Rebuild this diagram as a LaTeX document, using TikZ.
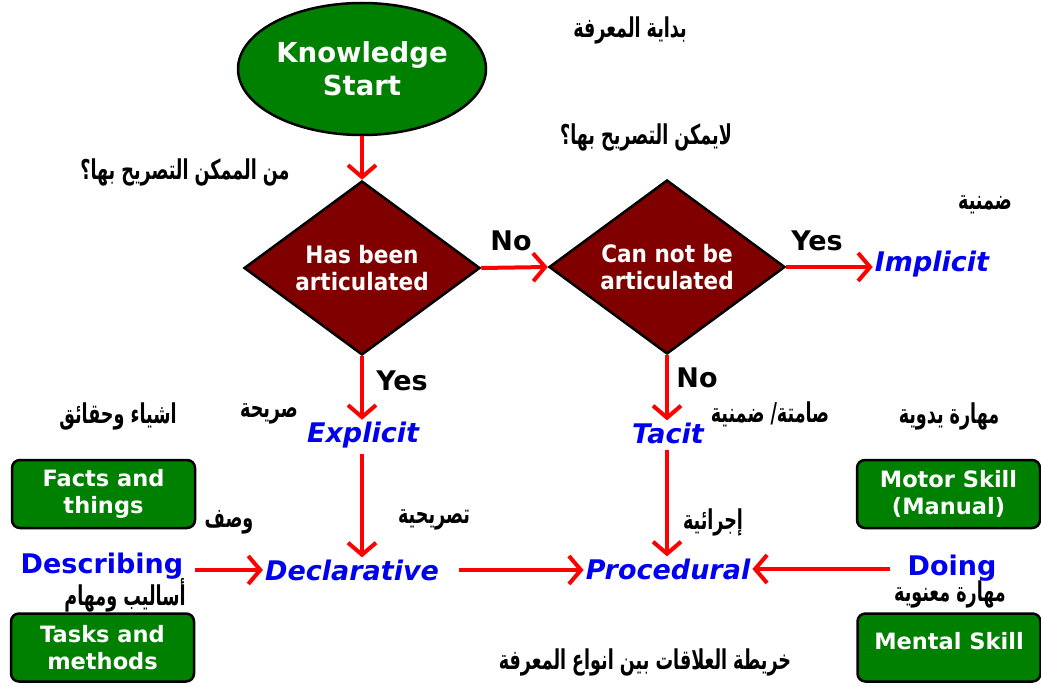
\documentclass[tikz,border=0pt]{standalone}
\usepackage{fontspec}
\usepackage{graphicx}
\setmainfont{DejaVu Sans}
\newfontfamily\condfont{DejaVu Sans Condensed}
\newfontfamily\arabicfont[Script=Arabic]{DejaVu Sans}
\usetikzlibrary{shapes.geometric,arrows.meta}
\TeXXeTstate=1
\definecolor{startgreen}{HTML}{008000}
\definecolor{decisionred}{HTML}{800000}
\definecolor{termblue}{HTML}{0000F0}
\definecolor{flowred}{HTML}{FF0000}
\newcommand{\ar}[1]{\scalebox{0.9}[1.4]{\arabicfont\bfseries\fontsize{19.5}{22}\selectfont\beginR #1\endR}}
\begin{document}
\begin{tikzpicture}[x=1pt,y=-1pt,
  startnode/.style={ellipse,draw=black,line width=2.5pt,fill=startgreen,
    minimum width=248pt,minimum height=132pt,inner sep=0pt,text=white,align=center,
    font=\bfseries\fontsize{27.5}{33}\selectfont},
  decision/.style={diamond,draw=black,line width=2.5pt,fill=decisionred,aspect=1.4,
    minimum width=236pt,minimum height=174pt,inner sep=0pt,text=white,align=center,
    font=\condfont\bfseries\fontsize{24}{27}\selectfont},
  skillbox/.style={rectangle,rounded corners=8pt,draw=black,line width=2.5pt,fill=startgreen,
    minimum width=183pt,minimum height=68pt,inner sep=0pt,text=white,align=center,
    font=\bfseries\fontsize{22.5}{27}\selectfont},
  term/.style={text=termblue,inner sep=2pt,font=\bfseries\itshape\fontsize{27}{30}\selectfont},
  verb/.style={text=termblue,inner sep=2pt,font=\bfseries\fontsize{27}{30}\selectfont},
  answer/.style={inner sep=0pt,font=\bfseries\fontsize{27}{30}\selectfont},
  arlabel/.style={inner sep=0pt},
  flow/.style={draw=flowred,line width=4pt,-{Straight Barb[length=12pt,width=28pt]}},
]
\useasboundingbox (0,0) rectangle (1041,687);
\fill[white] (0,0) rectangle (1041,687);

% main flow shapes
\node[startnode] (ks) at (362,69) {Knowledge\\Start};
\node[decision] (d1) at (362,268) {Has been\\articulated};
\node[decision] (d2) at (667,267) {Can not be\\articulated};

% knowledge kinds
\node[term] (implicit) at (932,264) {Implicit};
\node[term] (explicit) at (363,435) {Explicit};
\node[term] (tacit) at (668,433) {Tacit};
\node[term] (declarative) at (352,570) {Declarative};
\node[term] (procedural) at (668,569) {Procedural};
\node[verb] (describing) at (102,566) {Describing};
\node[verb] (doing) at (952,568) {Doing};

% skill boxes
\node[skillbox] (facts) at (103.5,494) {Facts and\\things};
\node[skillbox] (tasks) at (102.5,647.5) {Tasks and\\methods};
\node[skillbox] (motor) at (948.5,494) {Motor Skill\\(Manual)};
\node[skillbox,text depth=14pt] (mental) at (949,647.5) {Mental Skill};

% answers on the branches
\node[answer] (no1) at (511,241) {No};
\node[answer] (yes1) at (817,241) {Yes};
\node[answer] (yes2) at (402,381) {Yes};
\node[answer] (no2) at (697,378) {No};

% arabic captions
\node[arlabel] (a1) at (630,30) {\ar{بداية المعرفة}};
\node[arlabel] (a2) at (185,172) {\ar{من الممكن التصريح بها؟}};
\node[arlabel] (a3) at (646,137) {\ar{لايمكن التصريح بها؟}};
\node[arlabel] (a4) at (985,205) {\ar{ضمنية}};
\node[arlabel] (a5) at (118,416) {\ar{اشياء وحقائق}};
\node[arlabel] (a6) at (269,414) {\ar{صريحة}};
\node[arlabel] (a7) at (949,416) {\ar{مهارة يدوية}};
\node[arlabel] (a8) at (770,414) {\ar{صامتة/ ضمنية}};
\node[arlabel] (a9) at (229,522) {\ar{وصف}};
\node[arlabel] (a10) at (434,520) {\ar{تصريحية}};
\node[arlabel] (a11) at (713,522) {\ar{إجرائية}};
\node[arlabel] (a12) at (125,595) {\ar{أساليب ومهام}};
\node[arlabel] (a13) at (950,594) {\ar{مهارة معنوية}};
\node[arlabel] (a14) at (645,662) {\ar{خريطة العلاقات بين انواع المعرفة}};

% connectors
\draw[flow] (ks.south) -- (d1.north);
\draw[flow] (d1.east) -- (d2.west);
\draw[flow] (d2.east) -- (d2.east -| implicit.west);
\draw[flow] (d1.south) -- (d1.south |- explicit.north);
\draw[flow] (d2.south) -- (d2.south |- tacit.north);
\draw[flow,shorten <=4pt] (d1.south |- explicit.south) -- (d1.south |- declarative.north);
\draw[flow,shorten <=4pt] (d2.south |- tacit.south) -- (d2.south |- procedural.north);
\draw[flow,shorten <=10pt] (describing.east |- declarative.west) -- (declarative.west);
\draw[flow,shorten <=18pt] (declarative.east) -- (declarative.east -| procedural.west);
\draw[flow,shorten <=15pt] (doing.west |- procedural.east) -- (procedural.east);
\end{tikzpicture}
\end{document}
